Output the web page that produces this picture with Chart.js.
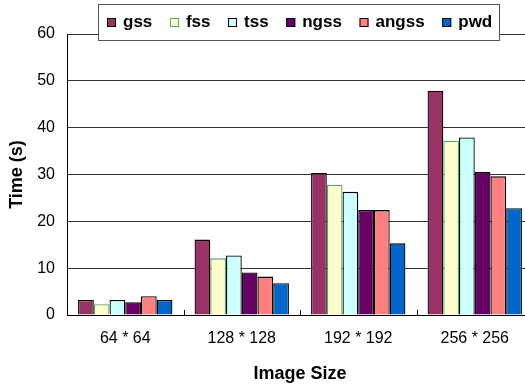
<!DOCTYPE html>
<html>
<head>
<meta charset="utf-8">
<script src="https://cdn.jsdelivr.net/npm/chart.js@4/dist/chart.umd.min.js"></script>
<style>
  html, body { margin:0; padding:0; background:#fff; overflow:hidden; }
  canvas { display:block; }
</style>
</head>
<body>
<canvas id="chart" width="540" height="386"></canvas>
<script>
// DATA
const sizes = ["64 * 64", "128 * 128", "192 * 192", "256 * 256"];
const names = ["gss", "fss", "tss", "ngss", "angss", "pwd"];
const gss   = [3.2, 16.1, 30.3, 47.9];
const fss   = [2.3, 12.1, 27.8, 37.2];
const tss   = [3.2, 12.7, 26.3, 37.9];
const ngss  = [2.7, 9.1, 22.4, 30.6];
const angss = [4.0, 8.2, 22.4, 29.6];
const pwd   = [3.2, 6.8, 15.3, 22.8];
const yTicks = [0, 10, 20, 30, 40, 50, 60];

const fills   = ["#993366", "#FFFFCC", "#CCFFFF", "#660066", "#FF8080", "#0066CC"];
const borders = ["#000", "#4EA56E", "#000", "#000", "#000", "#000"];
const series  = [gss, fss, tss, ngss, angss, pwd];

const font = "'Liberation Sans', Arial, sans-serif";

// legend box drawn on top of the plot, like excel
const boxLegend = {
  id: "boxLegend",
  afterDraw(chart){
    const ctx = chart.ctx;
    const x0 = 98, y0 = 4, w = 401, h = 36;
    ctx.save();
    ctx.fillStyle = "#fff";
    ctx.fillRect(x0, y0, w, h);
    ctx.strokeStyle = "#555";
    ctx.lineWidth = 1;
    ctx.strokeRect(x0 + 0.5, y0 + 0.5, w, h);

    ctx.font = "bold 17px " + font;
    ctx.textBaseline = "middle";
    const cy = y0 + h / 2 + 0.5;
    let x = 107;
    chart.data.datasets.forEach(ds=>{
      ctx.fillStyle = ds.backgroundColor;
      ctx.fillRect(x, cy - 4.5, 9, 9);
      ctx.strokeStyle = ds.borderColor;
      ctx.strokeRect(x + 0.5, cy - 4.5 + 0.5, 8, 8);
      ctx.fillStyle = "#000";
      ctx.fillText(ds.label, x + 16, cy);
      x += 16 + ctx.measureText(ds.label).width + 17.6;
    });
    ctx.restore();
  }
};

// small ticks between categories, pointing up
const catTicks = {
  id: "catTicks",
  afterDatasetsDraw(chart){
    const ctx = chart.ctx, xs = chart.scales.x, b = chart.chartArea.bottom;
    ctx.save();
    ctx.strokeStyle = "#000";
    ctx.lineWidth = 1;
    for(let i = 1; i < sizes.length; i++){
      const px = Math.round((xs.getPixelForTick(i - 1) + xs.getPixelForTick(i)) / 2) + 0.5;
      ctx.beginPath();
      ctx.moveTo(px, b - 5);
      ctx.lineTo(px, b);
      ctx.stroke();
    }
    ctx.restore();
  }
};

new Chart(document.getElementById("chart"), {
  type: "bar",
  data: {
    labels: sizes,
    datasets: names.map((n, i)=>({
      label: n,
      data: series[i],
      backgroundColor: fills[i],
      borderColor: borders[i],
      borderWidth: 1.3,
      barPercentage: 1,
      categoryPercentage: 0.81
    }))
  },
  options: {
    responsive: false,
    animation: false,
    devicePixelRatio: 1,
    layout: { padding: { left: 0, top: 34, right: 7, bottom: 0 } },
    plugins: {
      legend: { display: false },
      tooltip: { enabled: false }
    },
    scales: {
      x: {
        afterFit: s=>{ s.height = 71; },
        grid: { display: true, drawOnChartArea: false, drawTicks: false },
        border: { display: true, color: "#000", width: 1 },
        ticks: { color: "#000", padding: 14, maxRotation: 0, font: { family: font, size: 16 } },
        title: {
          display: true, text: "Image Size", color: "#000",
          font: { family: font, size: 18, weight: "bold" },
          padding: { top: 0, bottom: 1 }
        }
      },
      y: {
        min: 0, max: 60,
        afterFit: s=>{ s.width = 67; },
        afterBuildTicks: s=>{ s.ticks = yTicks.map(v=>({ value: v })); },
        grid: { color: "#333", lineWidth: 1, drawTicks: false },
        border: { display: true, color: "#000", width: 1 },
        ticks: { color: "#000", padding: 12, font: { family: font, size: 16 } },
        title: {
          display: true, text: "Time (s)", color: "#000",
          font: { family: font, size: 18, weight: "bold" },
          padding: { top: 6, bottom: 0 }
        }
      }
    }
  },
  plugins: [catTicks, boxLegend]
});
</script>
</body>
</html>
